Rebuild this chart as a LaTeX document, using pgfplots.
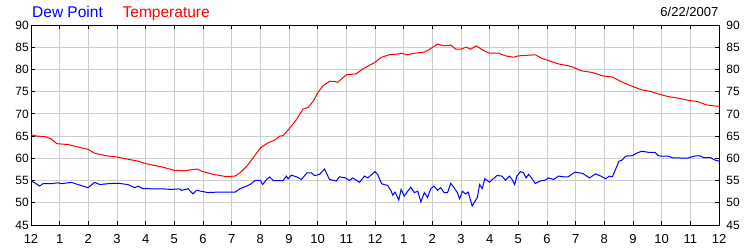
\documentclass[border=0pt]{standalone}
\usepackage{pgfplots}
\pgfplotsset{compat=1.18}
\usepackage{fontspec}
\setmainfont{Liberation Sans}
\definecolor{gridgray}{RGB}{204,204,204}
\definecolor{dewblue}{RGB}{0,0,255}
\definecolor{tempred}{RGB}{255,0,0}
\begin{document}
\begin{tikzpicture}[x=1bp,y=1bp]
\useasboundingbox (0,0) rectangle (750,250);
\begin{axis}[
  at={(31bp,25bp)}, anchor=south west,
  scale only axis, width=688bp, height=200bp,
  xmin=0, xmax=24, ymin=45, ymax=90,
  xtick={0,...,24},
  xticklabels={12,1,2,3,4,5,6,7,8,9,10,11,12,1,2,3,4,5,6,7,8,9,10,11,12},
  ytick={45,50,...,90},
  grid=major, major grid style={gridgray, line width=1bp},
  axis line style={black, line width=1bp},
  tick style={black, line width=1bp},
  major tick length=4bp, tick align=inside,
  xtick pos=both, ytick pos=both,
  yticklabel pos=left,
  /pgf/number format/assume math mode=true,
  yticklabel style={inner sep=0pt, xshift=-2bp, font=\fontsize{12bp}{14bp}\selectfont},
  xticklabel style={inner sep=0pt, yshift=-9.5bp, font=\fontsize{13bp}{15bp}\selectfont},
  clip=true,
]
\addplot[dewblue, line width=1bp] coordinates {
(0,54.9) (0.13,54.5) (0.3,53.75) (0.42,54.3) (0.71,54.3) (0.94,54.5) (1.06,54.3) (1.41,54.6) (1.64,54.1) (1.99,53.4)
(2.22,54.6) (2.4,54.1) (2.69,54.3) (3.03,54.4) (3.38,54.1) (3.62,53.4) (3.73,53.75) (3.9,53.2) (4.2,53.15) (4.55,53.15)
(4.9,53.0) (5.19,53.15) (5.24,52.8) (5.48,53.15) (5.65,52.0) (5.77,52.8) (6.17,52.3) (6.52,52.4) (6.87,52.4) (7.12,52.4)
(7.29,53.15) (7.64,54.1) (7.81,55.0) (8.0,55.05) (8.08,54.1) (8.22,55.25) (8.33,55.8) (8.45,55.0) (8.79,55.0) (8.91,56.0)
(8.97,55.4) (9.08,56.2) (9.26,55.85) (9.43,55.25) (9.63,56.75) (9.78,56.75) (9.89,56.1) (10.07,56.4) (10.24,57.6) (10.41,55.25)
(10.65,54.9) (10.76,55.85) (10.97,55.6) (11.11,55.0) (11.22,55.6) (11.46,54.6) (11.63,56.0) (11.75,55.6) (12.0,57.0) (12.09,56.4)
(12.23,54.3) (12.32,54.1) (12.44,53.9) (12.56,52.7) (12.62,51.7) (12.7,52.4) (12.83,50.6) (12.91,53.0) (13.02,51.5) (13.14,52.6)
(13.25,53.5) (13.37,52.3) (13.49,52.6) (13.6,50.2) (13.72,52.3) (13.83,51.2) (13.95,53.2) (14.06,53.75) (14.18,52.8) (14.29,53.4)
(14.41,52.3) (14.53,52.3) (14.64,54.35) (14.76,53.4) (14.87,52.3) (14.95,50.9) (15.05,52.6) (15.16,52.0) (15.25,52.4) (15.39,49.3)
(15.57,51.2) (15.65,54.1) (15.74,53.2) (15.83,55.4) (15.99,54.65) (16.26,56.15) (16.43,56.0) (16.55,55.1) (16.69,56.0) (16.78,55.25)
(16.87,54.1) (16.95,56.0) (17.07,57.0) (17.18,56.75) (17.27,55.6) (17.36,56.4) (17.47,55.5) (17.59,54.35) (17.76,54.9) (17.94,55.1)
(18.05,55.6) (18.23,55.25) (18.4,56.0) (18.57,55.85) (18.74,55.85) (18.97,56.9) (19.25,56.6) (19.48,55.6) (19.69,56.5) (19.88,56.0)
(20.05,55.4) (20.17,56.0) (20.28,55.85) (20.39,57.5) (20.51,59.35) (20.62,59.6) (20.74,60.5) (20.97,60.6) (21.14,61.2) (21.31,61.6)
(21.54,61.35) (21.77,61.35) (21.88,60.6) (21.99,60.5) (22.22,60.5) (22.39,60.1) (22.91,60.05) (23.14,60.5) (23.31,60.6) (23.48,60.15)
(23.71,60.15) (23.82,59.7) (24.0,59.35)
};
\addplot[tempred, line width=1bp] coordinates {
(0,65.3) (0.2,65.0) (0.5,64.9) (0.7,64.4) (0.9,63.3) (1.3,63.1) (1.6,62.6) (2.0,62.0) (2.2,61.2) (2.6,60.6)
(3.0,60.3) (3.3,59.9) (3.75,59.35) (4.0,58.8) (4.55,58.1) (5.0,57.3) (5.35,57.2) (5.8,57.6) (5.95,57.1) (6.35,56.4)
(6.8,55.9) (7.12,56.0) (7.29,56.75) (7.52,58.2) (7.75,60.1) (8.0,62.35) (8.27,63.5) (8.5,64.1) (8.68,65.0) (8.79,65.1)
(9.0,66.6) (9.26,68.7) (9.49,71.1) (9.66,71.45) (9.84,72.8) (10.0,74.7) (10.18,76.3) (10.41,77.3) (10.59,77.3) (10.7,77.1)
(11.0,78.8) (11.34,79.0) (11.57,80.1) (12.0,81.6) (12.21,82.7) (12.5,83.3) (12.84,83.5) (12.91,83.65) (13.14,83.3) (13.37,83.65)
(13.72,83.9) (13.87,84.4) (14.18,85.7) (14.41,85.3) (14.64,85.5) (14.82,84.55) (14.99,84.55) (15.18,85.0) (15.34,84.55) (15.53,85.3)
(15.8,84.2) (16.0,83.65) (16.32,83.65) (16.55,83.05) (16.84,82.75) (16.99,83.05) (17.59,83.3) (17.82,82.5) (18.05,82.0) (18.4,81.25)
(18.75,80.8) (18.91,80.5) (19.19,79.7) (19.59,79.3) (19.94,78.55) (20.28,78.3) (20.62,77.15) (20.97,76.2) (21.31,75.4) (21.59,75.1)
(21.88,74.5) (22.22,73.9) (22.57,73.55) (22.97,73.0) (23.25,72.8) (23.54,72.05) (23.82,71.8) (24.0,71.7)
};
\end{axis}
\begin{axis}[
  at={(31bp,25bp)}, anchor=south west,
  scale only axis, width=688bp, height=200bp,
  xmin=0, xmax=24, ymin=45, ymax=90,
  xtick=\empty,
  ytick={45,50,...,90},
  yticklabel pos=right,
  axis line style={draw=none},
  ytick style={draw=none},
  /pgf/number format/assume math mode=true,
  yticklabel style={anchor=east, inner sep=0pt, xshift=21bp, font=\fontsize{12bp}{14bp}\selectfont},
]
\end{axis}
\node[anchor=base west, inner sep=0pt, text=dewblue, font=\fontsize{15.5bp}{18bp}\selectfont] at (32,232.7) {Dew Point};
\node[anchor=base west, inner sep=0pt, text=tempred, font=\fontsize{15.5bp}{18bp}\selectfont] at (122.5,232.7) {Temperature};
\node[anchor=base east, inner sep=0pt, font=\fontsize{13bp}{15bp}\selectfont] at (718.5,233.3) {6/22/2007};
\end{tikzpicture}
\end{document}
